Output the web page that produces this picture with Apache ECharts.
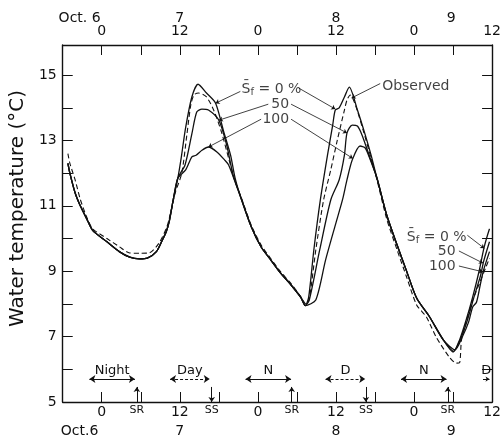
<!DOCTYPE html>
<html>
<head>
<meta charset="utf-8">
<script src="https://cdn.jsdelivr.net/npm/echarts@6/dist/echarts.min.js"></script>
<style>
  html, body { margin: 0; padding: 0; background: #fff; }
  #chart { width: 504px; height: 441px; }
</style>
</head>
<body>
<div id="chart"></div>
<script>
// hours from Oct.6 0h, water temperature (°C)
const observed = [
  [-5.2, 12.6], [-4.9, 12.3], [-4.1, 11.8], [-3.3, 11.2], [-2.3, 10.65], [-1.4, 10.3], [0.8, 10.0],
  [2.7, 9.75], [4.3, 9.56], [5.8, 9.55], [7.3, 9.56], [8.8, 9.86], [10.0, 10.35], [10.6, 10.8],
  [11.3, 11.4], [12.3, 12.0], [13.1, 13.2], [13.7, 14.1], [14.2, 14.4], [14.9, 14.45], [16.1, 14.33],
  [17.2, 13.93], [18.4, 13.26], [19.5, 12.46], [20.4, 11.8], [21.5, 11.22], [23.0, 10.4], [24.5, 9.8],
  [26.0, 9.38], [27.5, 8.98], [29.1, 8.62], [30.6, 8.22], [31.4, 8.0], [31.9, 8.15], [32.9, 9.65],
  [34.1, 11.18], [35.2, 12.1], [36.2, 13.0], [37.3, 13.93], [37.7, 14.24], [38.2, 14.39], [39.0, 14.08],
  [40.2, 13.3], [41.4, 12.46], [42.3, 11.8], [43.8, 10.6], [45.4, 9.65], [46.9, 8.8], [48.4, 7.97],
  [49.9, 7.6], [51.4, 6.99], [53.4, 6.38], [54.5, 6.19], [55.0, 6.2], [55.3, 6.9], [56.0, 7.45],
  [57.0, 8.1], [58.0, 8.6], [59.0, 9.1], [59.6, 9.4]
];
const sf0 = [
  [-5.2, 12.3], [-4.9, 12.0], [-4.1, 11.4], [-3.3, 11.0], [-2.3, 10.6], [-1.4, 10.25], [0.8, 9.9],
  [2.7, 9.6], [4.3, 9.43], [5.8, 9.38], [7.0, 9.4], [8.4, 9.6], [9.3, 9.95], [9.9, 10.2], [10.4, 10.55],
  [11.0, 11.2], [11.7, 11.85], [12.2, 12.45], [12.9, 13.4], [13.85, 14.33], [14.8, 14.72], [16.1, 14.45],
  [17.5, 14.14], [18.7, 13.3], [19.8, 12.55], [20.5, 11.85], [21.5, 11.18], [23.0, 10.35], [24.5, 9.74],
  [26.0, 9.34], [27.5, 8.94], [29.1, 8.58], [30.6, 8.2], [31.3, 7.95], [31.8, 8.2], [32.6, 9.65],
  [33.6, 11.18], [34.7, 12.55], [35.5, 13.47], [35.9, 13.93], [36.5, 14.0], [37.3, 14.33], [38.05, 14.63],
  [39.3, 13.93], [40.5, 13.17], [41.4, 12.55], [42.3, 11.85], [43.8, 10.72], [45.4, 9.8], [46.9, 8.98],
  [48.4, 8.18], [50.4, 7.6], [52.5, 6.9], [54.0, 6.53], [55.0, 6.9], [56.0, 7.5], [57.0, 8.2],
  [58.0, 9.0], [58.8, 9.75], [59.6, 10.3]
];
const sf50 = [
  [-5.2, 12.3], [-4.9, 12.0], [-4.1, 11.4], [-3.3, 11.0], [-2.3, 10.6], [-1.4, 10.25], [0.8, 9.9],
  [2.7, 9.6], [4.3, 9.43], [5.8, 9.38], [7.0, 9.4], [8.4, 9.6], [9.3, 9.95], [9.9, 10.2], [10.4, 10.55],
  [11.0, 11.2], [11.7, 11.85], [12.8, 12.25], [13.85, 13.2], [14.6, 13.87], [15.4, 13.96], [16.4, 13.93],
  [18.0, 13.62], [19.2, 12.86], [20.2, 11.94], [21.5, 11.2], [23.0, 10.35], [24.5, 9.74], [26.0, 9.34],
  [27.5, 8.94], [29.1, 8.58], [30.6, 8.2], [31.3, 7.95], [31.9, 8.12], [33.5, 9.65], [35.2, 11.18],
  [36.5, 11.8], [37.3, 12.55], [37.7, 13.23], [38.5, 13.47], [39.3, 13.44], [40.0, 13.17], [41.1, 12.55],
  [42.3, 11.85], [43.8, 10.72], [45.4, 9.8], [46.9, 8.98], [48.4, 8.18], [50.4, 7.6], [52.5, 6.9],
  [54.1, 6.55], [55.2, 6.95], [56.2, 7.5], [57.2, 8.2], [58.2, 8.85], [58.7, 9.3], [59.6, 9.9]
];
const sf100 = [
  [-5.2, 12.3], [-4.9, 12.0], [-4.1, 11.4], [-3.3, 11.0], [-2.3, 10.6], [-1.4, 10.25], [0.8, 9.9],
  [2.7, 9.6], [4.3, 9.43], [5.8, 9.38], [7.0, 9.4], [8.4, 9.6], [9.3, 9.95], [9.9, 10.2], [10.4, 10.55],
  [11.0, 11.2], [11.7, 11.85], [12.9, 12.1], [13.85, 12.5], [14.5, 12.55], [15.4, 12.7], [16.4, 12.8],
  [17.7, 12.65], [18.9, 12.4], [19.5, 12.25], [20.5, 11.73], [21.5, 11.18], [23.0, 10.35], [24.5, 9.74],
  [26.0, 9.34], [27.5, 8.94], [29.1, 8.58], [30.6, 8.2], [31.3, 7.95], [32.9, 8.12], [34.4, 9.34],
  [35.9, 10.41], [37.0, 11.18], [37.7, 11.8], [38.5, 12.4], [39.7, 12.83], [40.5, 12.77], [41.1, 12.5],
  [42.3, 11.85], [43.8, 10.72], [45.4, 9.8], [46.9, 8.98], [48.4, 8.18], [50.4, 7.6], [52.5, 6.9],
  [54.3, 6.6], [55.4, 6.98], [56.4, 7.45], [57.0, 7.9], [57.6, 8.05], [58.2, 8.6], [58.7, 9.04], [59.6, 9.6]
];

// day / night bars: label, from hour, to hour, line type
const periods = [
  ['Night', -1.9, 5.1, 'solid'], ['Day', 10.5, 16.6, 'dashed'], ['N', 22.1, 29.1, 'solid'],
  ['D', 34.4, 40.5, 'dashed'], ['N', 46.0, 53.0, 'solid'], ['D', 58.6, 59.6, 'solid']
];
// sunrise / sunset hours
const sunEvents = [['SR', 5.4], ['SS', 16.9], ['SR', 29.2], ['SS', 40.6], ['SR', 53.2]];

const topDates = ['Oct. 6', '7', '8', '9'];
const bottomDates = ['Oct.6', '7', '8', '9'];
const datePos = [-3.4, 12, 36, 53.7];
const hourLabels = [0, 12, 24, 36, 48, 60];

// curve labels [text, hour, temp, side]  and leader lines [from, to]
const sfText = '{o|S\u0304}{s|f} = 0 %';
const notes = [
  [sfText, 21.5, 14.57, 'right'], ['50', 28.8, 14.11, 'left'], ['100', 28.8, 13.65, 'left'],
  ['Observed', 43.1, 14.66, 'right'],
  [sfText, 46.9, 10.05, 'right'], ['50', 54.4, 9.62, 'left'], ['100', 54.4, 9.16, 'left']
];
const leaders = [
  [[21.3, 14.5], [17.5, 14.14]], [[25.6, 14.11], [18.0, 13.62]], [[24.5, 13.65], [16.4, 12.8]],
  [[30.3, 14.6], [35.9, 13.96]], [[29.1, 14.11], [37.7, 13.23]], [[29.1, 13.65], [38.6, 12.45]],
  [[42.8, 14.74], [38.4, 14.3]],
  [[56.2, 10.1], [58.8, 9.7]], [[54.9, 9.62], [58.6, 9.25]], [[54.9, 9.16], [58.6, 8.98]]
];

const FONT = 'DejaVu Sans';
const INK = '#111';

const chart = echarts.init(document.getElementById('chart'));

const hourFmt = v => (hourLabels.includes(v) ? String(v % 24) : '');
const dateFmt = names => v => {
  const i = datePos.findIndex(p => Math.abs(p - v) < 1e-6);
  return i >= 0 ? names[i] : '';
};

const xBase = {
  type: 'value', min: -6, max: 60, interval: 6,
  splitLine: { show: false }
};

const markData = [];
periods.forEach(([name, a, b, type]) => {
  const short = b - a < 2;
  markData.push([
    { coord: [a, 5.7], name: name, symbol: short ? 'none' : 'arrow', symbolSize: 6,
      lineStyle: { type: type === 'dashed' ? [3, 2] : 'solid', width: 1, color: INK },
      label: { show: true, position: 'insideMiddleTop', distance: 2, formatter: name,
               fontFamily: FONT, fontSize: 13, color: INK } },
    { coord: [b, 5.7], symbol: 'arrow', symbolSize: short ? 4 : 6 }
  ]);
});
sunEvents.forEach(([name, h]) => {
  const up = name === 'SR';
  markData.push([
    { coord: [h, up ? 5 : 5.46], name: name, symbol: 'none',
      lineStyle: { type: 'solid', width: 1, color: INK },
      label: { show: true, position: up ? 'start' : 'end', distance: 3, formatter: name,
               fontFamily: FONT, fontSize: 11, color: INK } },
    { coord: [h, up ? 5.46 : 5], symbol: 'arrow', symbolSize: 5 }
  ]);
});
leaders.forEach(([p, q]) => {
  markData.push([
    { coord: p, symbol: 'none', lineStyle: { type: 'solid', width: 0.8, color: INK }, label: { show: false } },
    { coord: q, symbol: 'arrow', symbolSize: 4 }
  ]);
});

const lineSeries = (name, data, dashed) => ({
  name, type: 'line', data, showSymbol: false, smooth: 0.25,
  xAxisIndex: 0, yAxisIndex: 0,
  lineStyle: { color: INK, width: dashed ? 1.1 : 1.3, type: dashed ? [5, 3] : 'solid' },
  z: 3
});

chart.setOption({
  backgroundColor: '#fff',
  animation: false,
  grid: { left: 62, right: 8, top: 45, bottom: 39 },
  xAxis: [
    Object.assign({}, xBase, {
      position: 'bottom',
      axisLine: { onZero: false, lineStyle: { color: INK, width: 1.4 } },
      axisTick: { inside: true, length: 10, lineStyle: { color: INK } },
      axisLabel: { formatter: hourFmt, margin: 3, fontFamily: FONT, fontSize: 14, color: INK }
    }),
    Object.assign({}, xBase, {
      position: 'top',
      axisLine: { onZero: false, lineStyle: { color: INK, width: 1.4 } },
      axisTick: { inside: true, length: 10, lineStyle: { color: INK } },
      axisLabel: { formatter: hourFmt, margin: 7, fontFamily: FONT, fontSize: 14, color: INK }
    }),
    Object.assign({}, xBase, {
      position: 'bottom', offset: 19,
      axisLine: { show: false, onZero: false }, axisTick: { show: false },
      axisLabel: { customValues: datePos, formatter: dateFmt(bottomDates), margin: 3,
                   fontFamily: FONT, fontSize: 14, color: INK }
    }),
    Object.assign({}, xBase, {
      position: 'top', offset: 17,
      axisLine: { show: false, onZero: false }, axisTick: { show: false },
      axisLabel: { customValues: datePos, formatter: dateFmt(topDates), margin: 3,
                   fontFamily: FONT, fontSize: 14, color: INK }
    })
  ],
  yAxis: [
    {
      type: 'value', min: 5, max: 15.92, interval: 1, position: 'left',
      name: 'Water temperature (°C)', nameLocation: 'middle', nameGap: 24,
      nameTextStyle: { fontFamily: FONT, fontSize: 20, color: INK, padding: [0, 0, 0, 30] },
      splitLine: { show: false },
      axisLine: { show: true, onZero: false, lineStyle: { color: INK, width: 1.4 } },
      axisTick: { inside: true, length: 10, lineStyle: { color: INK } },
      axisLabel: {
        margin: 6, fontFamily: FONT, fontSize: 14, color: INK,
        formatter: v => (Math.abs(v - Math.round(v)) < 1e-6 && Math.round(v) % 2 === 1 ? String(v) : '')
      }
    },
    {
      type: 'value', min: 5, max: 15.92, interval: 1, position: 'right',
      splitLine: { show: false },
      axisLine: { show: true, onZero: false, lineStyle: { color: INK, width: 1.4 } },
      axisTick: { inside: true, length: 10, lineStyle: { color: INK } },
      axisLabel: { show: false }
    }
  ],
  series: [
    lineSeries('Observed', observed, true),
    lineSeries('Sf 0%', sf0, false),
    lineSeries('Sf 50%', sf50, false),
    lineSeries('Sf 100%', sf100, false),
    {
      name: 'notes', type: 'scatter', symbolSize: 0, clip: false, z: 5,
      data: notes.map(([text, h, v, side]) => ({
        value: [h, v],
        label: {
          show: true, position: side, distance: 0, formatter: text,
          fontFamily: FONT, fontSize: 14, color: INK,
          rich: {
            o: { fontFamily: FONT, fontSize: 14, color: INK },
            s: { fontFamily: FONT, fontSize: 10, color: INK, padding: [7, 0, 0, 0] }
          }
        }
      })),
      markLine: { silent: true, symbol: 'none', precision: 3, animation: false, data: markData }
    }
  ]
});
</script>
</body>
</html>
